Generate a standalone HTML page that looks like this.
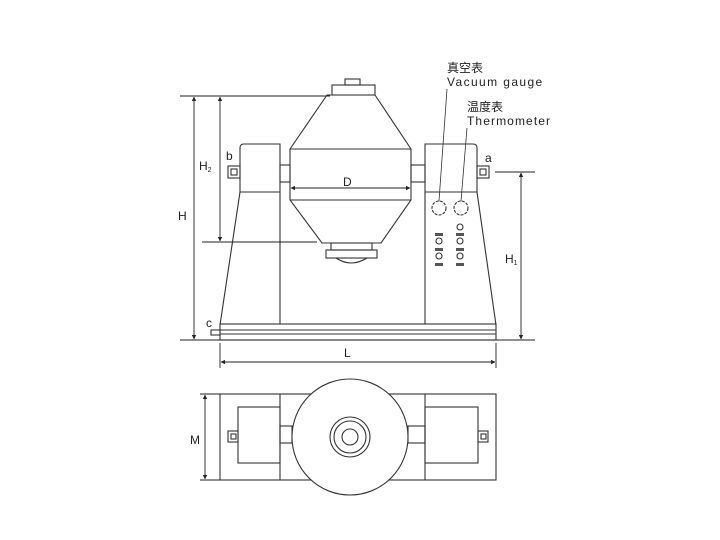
<!DOCTYPE html>
<html><head><meta charset="utf-8"><style>
html,body{margin:0;padding:0;background:#fff;}
svg{display:block;}
text{font-family:"Liberation Sans","Noto Sans CJK SC",sans-serif;fill:#222;}
</style></head><body>
<svg width="720" height="540" viewBox="0 0 720 540" xmlns="http://www.w3.org/2000/svg">
<defs>
<marker id="ar" viewBox="0 0 6 6" refX="5.5" refY="3" markerWidth="5" markerHeight="5" orient="auto-start-reverse"><path d="M0,0 L6,3 L0,6 z" fill="#222"/></marker>
</defs>
<g fill="none" stroke="#333" stroke-width="1.1">
<rect x="345" y="79" width="15" height="6"/>
<rect x="332" y="85" width="43" height="10"/>
<path d="M327,95 L375,95 L411,149 L411,200 L381,243 L322,243 L290,200 L290,149 Z"/>
<line x1="290" y1="149" x2="411" y2="149"/>
<line x1="290" y1="200" x2="411" y2="200"/>
<rect x="331" y="243" width="41" height="7"/>
<rect x="326" y="250" width="51" height="8"/>
<path d="M336,258 Q351,268 367,258"/>
<rect x="280" y="165" width="10" height="17"/>
<rect x="411" y="165" width="14" height="17"/>
<path d="M280,144 L244,144 Q240,144 240,148 L240,192 L280,192 Z"/>
<path d="M240,192 L220,325"/>
<line x1="280" y1="192" x2="280" y2="324"/>
<path d="M425,144 L473,144 Q477,144 477,148 L477,192 L425,192 Z"/>
<path d="M477,192 L496,325"/>
<line x1="425" y1="192" x2="425" y2="324"/>
<rect x="228" y="166" width="12" height="12"/><rect x="231" y="169" width="6" height="6"/>
<rect x="477" y="166" width="12" height="12"/><rect x="480" y="169" width="6" height="6"/>
<rect x="211" y="330" width="9" height="5"/>
<rect x="220" y="324" width="276" height="16"/>
<line x1="220" y1="330" x2="496" y2="330"/>
<line x1="220" y1="334" x2="496" y2="334"/>
<circle cx="439" cy="208" r="7" stroke-dasharray="3,1.2"/>
<circle cx="461" cy="208" r="7" stroke-dasharray="3,1.2"/>
<line x1="447" y1="89" x2="439" y2="201" stroke-width="0.8"/>
<line x1="467" y1="128" x2="461" y2="201" stroke-width="0.8"/>
<circle cx="460" cy="227" r="3"/>
<circle cx="439" cy="241" r="3"/><circle cx="460" cy="241" r="3"/>
<circle cx="439" cy="256" r="3"/><circle cx="460" cy="256" r="3"/>
</g>
<g fill="#555">
<rect x="435" y="233" width="8" height="3"/><rect x="456" y="233" width="8" height="3"/>
<rect x="435" y="248" width="8" height="3"/><rect x="456" y="248" width="8" height="3"/>
<rect x="435" y="263" width="8" height="3"/><rect x="456" y="263" width="8" height="3"/>
</g>
<g stroke="#222" stroke-width="0.9" fill="none">
<line x1="180" y1="96" x2="330" y2="96"/>
<line x1="180" y1="340" x2="535" y2="340"/>
<line x1="194" y1="97" x2="194" y2="339" marker-start="url(#ar)" marker-end="url(#ar)"/>
<line x1="220" y1="97" x2="220" y2="241" marker-start="url(#ar)" marker-end="url(#ar)"/>
<line x1="202" y1="242" x2="317" y2="242"/>
<line x1="495" y1="172" x2="535" y2="172"/>
<line x1="521" y1="173" x2="521" y2="339" marker-start="url(#ar)" marker-end="url(#ar)"/>
<line x1="291" y1="188" x2="410" y2="188" marker-start="url(#ar)" marker-end="url(#ar)"/>
<line x1="220" y1="343" x2="220" y2="368"/>
<line x1="496" y1="343" x2="496" y2="368"/>
<line x1="221" y1="362" x2="495" y2="362" marker-start="url(#ar)" marker-end="url(#ar)"/>
<line x1="200" y1="394" x2="220" y2="394"/>
<line x1="200" y1="480" x2="220" y2="480"/>
<line x1="205" y1="395" x2="205" y2="479" marker-start="url(#ar)" marker-end="url(#ar)"/>
</g>
<g fill="none" stroke="#333" stroke-width="1.1">
<rect x="220" y="394" width="276" height="86"/>
<line x1="280" y1="394" x2="280" y2="480"/>
<line x1="425" y1="394" x2="425" y2="480"/>
<rect x="238" y="407" width="42" height="56"/>
<rect x="425" y="407" width="53" height="56"/>
<rect x="280" y="426" width="12" height="17"/>
<rect x="408" y="426" width="17" height="17"/>
<circle cx="350" cy="437" r="58" fill="#fff"/>
<circle cx="350" cy="437" r="20"/>
<circle cx="350" cy="437" r="16"/>
<circle cx="350" cy="437" r="8"/>
<rect x="228" y="431" width="10" height="11"/><rect x="231" y="434" width="5" height="5"/>
<rect x="478" y="431" width="10" height="11"/><rect x="481" y="434" width="5" height="5"/>
</g>
<g font-size="12">
<text x="447" y="72">真空表</text>
<text x="447" y="86" letter-spacing="1.4">Vacuum gauge</text>
<text x="467" y="111">温度表</text>
<text x="467" y="125" letter-spacing="1.1">Thermometer</text>
<text x="178" y="220">H</text>
<text x="199" y="170">H<tspan font-size="7" dy="2">2</tspan></text>
<text x="505" y="263">H<tspan font-size="7" dy="2">1</tspan></text>
<text x="343" y="186">D</text>
<text x="344" y="357">L</text>
<text x="190" y="444">M</text>
<text x="226" y="160">b</text>
<text x="485" y="162">a</text>
<text x="206" y="327">c</text>
</g>
</svg>
</body></html>
